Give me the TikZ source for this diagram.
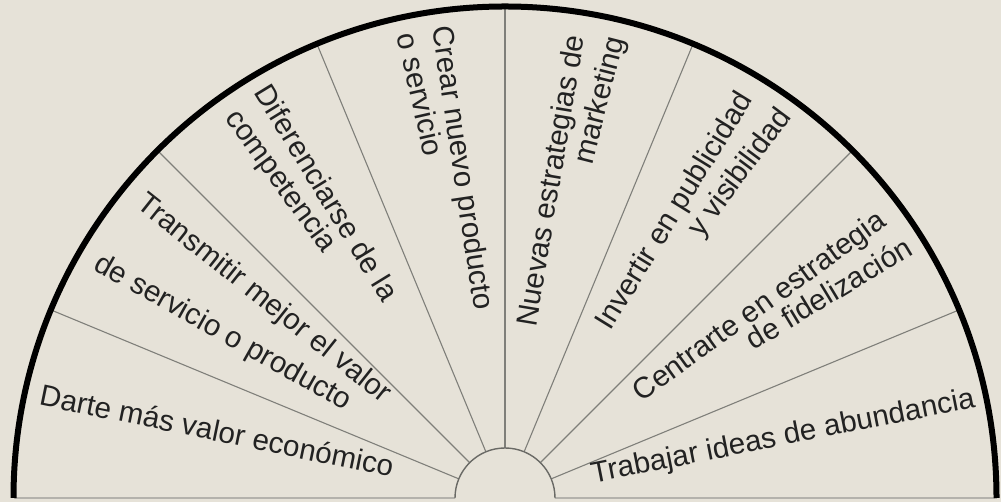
\documentclass[tikz,border=0pt]{standalone}
\usepackage{fontspec}
\setmainfont{Liberation Sans}
\definecolor{bg}{HTML}{E6E2D8}
\definecolor{spoke}{HTML}{7F7F7A}
\definecolor{hub}{HTML}{6A6A66}
\definecolor{txt}{HTML}{222222}
\definecolor{base}{HTML}{B4B2AC}
\begin{document}
\begin{tikzpicture}[x=1pt,y=1pt,
  lbl/.style={inner sep=0pt, font=\fontsize{29.6}{35}\selectfont, text=txt, text height=.75em, text depth=.25em},
  lefttxt/.style={lbl, anchor=west, rotate=#1-180},
  righttxt/.style={lbl, anchor=east, rotate=#1},
  spokeline/.style={draw=spoke, line width=1.1pt},
  rim/.style={draw=black, line width=6pt},
  hubarc/.style={draw=hub, line width=1.4pt, fill=bg},
  baseline/.style={draw=base, line width=1.5pt}]
\fill[bg] (0,0) rectangle (1001,502);
\useasboundingbox (0,0) rectangle (1001,502);
\begin{scope}[shift={(505,4)}]
  \coordinate (O) at (0,0);
  \draw[baseline] (-491.5,0) -- (-50,0);
  \draw[baseline] (50,0) -- (491.5,0);
  \foreach \a in {22.5,45,67.5,90,112.5,135,157.5}
    \draw[spokeline] (\a:50) -- (\a:491.5);
  \draw[hubarc] (-50,0) arc (180:0:50);
  \draw[rim] (-491.5,0) arc (180:0:491.5);
  % left half
  \node[lefttxt=168.4] (t1) at (168.4:476) {Darte más valor económico};
  \node[lefttxt=141.5] (t2a) at (141.5:471) {Transmitir mejor el valor};
  \node[lefttxt=150.7] (t2b) at (150.7:472) {de servicio o producto};
  \node[lefttxt=121.5] (t3a) at (121.5:477) {Diferenciarse de la};
  \node[lefttxt=126.2] (t3b) at (126.2:472) {competencia};
  \node[lefttxt=98.5] (t4a) at (98.5:476) {Crear nuevo producto};
  \node[lefttxt=102.9] (t4b) at (102.9:475) {o servicio};
  % right half
  \node[righttxt=80.5] (t5a) at (80.5:468) {Nuevas estrategias de};
  \node[righttxt=75.7] (t5b) at (75.7:474) {marketing};
  \node[righttxt=58.35] (t6a) at (58.35:470) {Invertir en publicidad};
  \node[righttxt=53.3] (t6b) at (53.3:477) {y visibilidad};
  \node[righttxt=35.8] (t7a) at (35.8:470) {Centrarte en estrategia};
  \node[righttxt=31.1] (t7b) at (31.1:477) {de fidelización};
  \node[righttxt=11.2] (t8) at (11.2:480) {Trabajar ideas de abundancia};
\end{scope}
\end{tikzpicture}
\end{document}
